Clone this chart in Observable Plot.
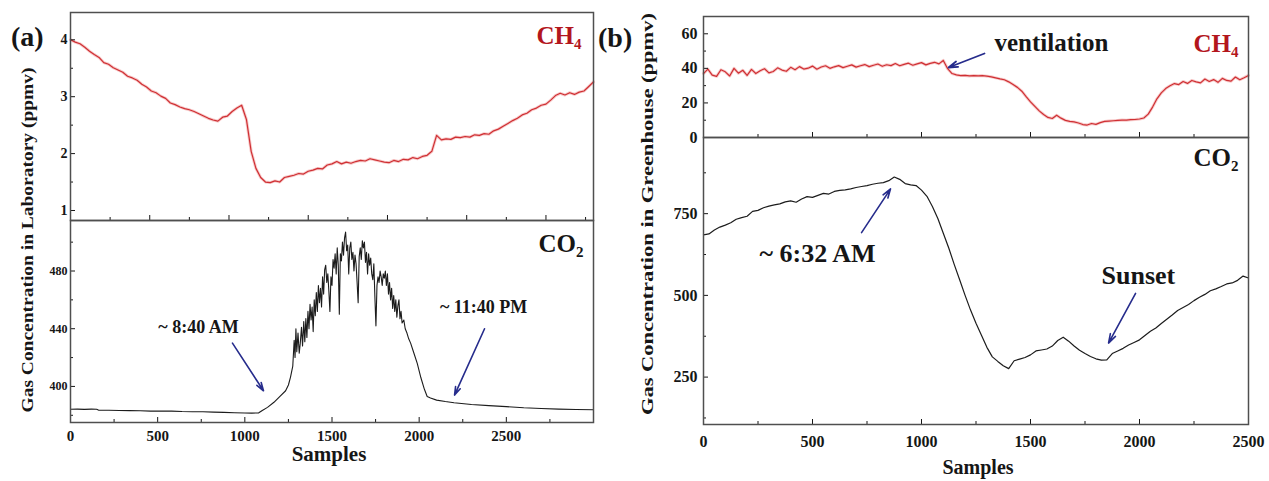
<!DOCTYPE html>
<html><head><meta charset="utf-8">
<script src="https://cdn.jsdelivr.net/npm/d3@7"></script>
<script src="https://cdn.jsdelivr.net/npm/@observablehq/plot@0.6"></script>
<style>
html,body{margin:0;padding:0;background:#fff;}
#root{position:relative;width:1269px;height:481px;overflow:hidden;background:#fff;}
#root svg{position:absolute;overflow:visible;}
</style></head><body><div id="root"></div>
<script>
// ---------------- DATA ----------------
// (a) Laboratory CH4 (ppmv), one reading every 30 samples from 0
const ch4LabStep = 30;
const ch4Lab = [
  4.00,3.96,3.93,3.87,3.80,3.74,3.69,3.60,3.57,3.51,
  3.47,3.43,3.36,3.33,3.29,3.22,3.17,3.10,3.07,3.01,
  2.97,2.89,2.86,2.82,2.79,2.77,2.74,2.70,2.66,2.62,
  2.59,2.57,2.64,2.66,2.74,2.80,2.85,2.60,2.04,1.74,
  1.58,1.50,1.49,1.52,1.50,1.58,1.60,1.62,1.65,1.64,
  1.69,1.71,1.74,1.73,1.80,1.82,1.86,1.82,1.85,1.83,
  1.86,1.88,1.87,1.91,1.89,1.87,1.85,1.84,1.88,1.86,
  1.90,1.89,1.93,1.91,1.95,1.97,2.04,2.32,2.24,2.26,
  2.25,2.29,2.28,2.30,2.29,2.33,2.32,2.35,2.34,2.40,
  2.43,2.48,2.53,2.58,2.62,2.68,2.71,2.77,2.80,2.85,
  2.87,2.94,3.02,3.06,3.03,3.07,3.04,3.08,3.10,3.18,
  3.26
];
// (a) Laboratory CO2 (ppmv)
const co2LabSamples = [
  0,40,80,120,150,160,220,280,340,400,460,520,580,640,700,760,820,880,940,1000,
  1040,1080,1100,1130,1167,1200,1234,1250,1262,1275,
  1283,1288,1293,1298,1305,1312,1318,1325,1331,1338,1344,1350,1356,1362,1368,1374,1380,1386,1392,1398,
  1404,1410,1416,1422,1428,1434,1440,1446,1452,1458,1464,1470,1476,1482,1488,1494,1500,1506,1512,1518,
  1524,1530,1536,1542,1548,1554,1560,1566,1572,1578,1584,1590,1596,1602,1608,1614,1620,1626,1632,1638,
  1644,1650,1656,1662,1668,1674,1680,1686,1692,1698,1704,1710,1716,1722,1728,1734,1740,1746,1752,1758,
  1764,1770,1776,1782,1788,1794,1800,1806,1812,1818,1824,1830,1836,1842,1848,1854,1860,1866,1872,1878,
  1884,1890,1896,1902,1912,1920,1930,1940,1951,1970,1989,2010,2030,2046,2065,2100,2150,2200,2300,2400,
  2500,2600,2700,2800,2900,3000
];
const co2LabValues = [
  384.2,384.3,384.1,384.3,384.2,383.6,383.5,383.3,383.2,383.1,382.9,383.0,382.9,382.6,382.5,382.4,382.2,382.0,381.8,381.6,
  381.5,381.7,383.3,385.5,389,393,397,401,406.5,414,
  432,420,440,424,437,423,430,441,428,445,431,447,434,452,440,457,446,455,438,460,
  449,465,452,470,458,468,455,476,464,481,484,472,478,466,452,476,470,488,482,492,
  478,496,484,450,492,487,500,491,503,507,494,498,478,496,500,488,493,480,491,485,
  472,458,490,496,488,501,496,500,486,493,478,492,484,489,478,474,485,462,442,470,
  476,472,480,476,470,478,475,480,470,478,464,472,460,468,454,463,452,460,448,456,
  460,447,452,444,446,440,437,433,430,423,416,406,398,393,392,390.5,389.5,388.7,387.5,386.7,
  386.0,385.2,384.7,384.3,384.0,383.8
];
// (b) Greenhouse CH4 (ppmv), one reading every 20 samples from 0
const ch4GhStep = 20;
const ch4Gh = [
  37.0,39.6,36.1,35.4,39.2,38.0,35.6,40.0,37.2,38.9,
  35.9,39.4,37.0,38.6,39.8,37.4,38.2,40.3,39.0,38.3,
  40.6,39.2,41.0,39.6,40.1,41.3,39.5,40.8,41.5,40.0,
  40.9,41.6,40.4,41.2,42.0,40.7,41.5,42.2,41.0,41.8,
  42.5,41.2,42.1,41.6,42.8,41.5,42.3,43.0,41.8,42.6,
  43.3,42.0,42.9,43.5,42.6,44.6,39.8,37.0,36.2,35.8,
  35.9,35.6,35.8,35.7,35.8,35.5,35.1,34.5,33.9,33.4,
  32.2,30.6,29.0,26.8,23.6,20.6,18.0,15.4,13.3,11.6,
  11.0,12.9,11.2,9.9,9.3,9.0,8.4,7.5,7.2,8.1,
  7.6,8.6,9.3,9.5,9.7,9.9,10.1,10.0,10.3,10.4,
  10.7,11.3,13.5,17.6,22.4,25.8,28.3,29.9,31.2,30.6,
  32.4,31.3,33.0,32.2,31.6,33.8,32.4,33.5,31.9,34.2,
  33.0,32.6,35.0,33.4,34.6,35.9
];
// (b) Greenhouse CO2 (ppmv), one reading every 25 samples from 0
const co2GhStep = 25;
const co2Gh = [
  685,688,700,709,715,722,733,738,742,757,
  760,768,773,777,780,786,789,785,795,802,
  800,806,812,810,818,821,823,826,830,833,
  836,840,843,845,851,862,855,842,838,836,
  822,803,772,735,690,645,595,548,500,455,
  415,378,341,312,298,285,276,300,305,310,
  318,330,333,336,345,362,372,360,345,332,
  322,313,306,302,303,322,330,338,348,356,
  364,377,390,400,414,427,440,454,463,472,
  484,494,503,514,520,527,535,538,546,559,
  553
];
// Tick values
const xTicksLab = [0,500,1000,1500,2000,2500];
const xMinorLab = [250,750,1250,1750,2250,2750];
const xTicksLabTop = [500,1000,1500,2000,2500,3000];
const xMinorLabTop = [250,750,1250,1750,2250,2750,3250];
const yTicksCh4Lab = [1,2,3,4];
const yMinorCh4Lab = [1.5,2.5,3.5];
const yTicksCo2Lab = [400,440,480];
const yMinorCo2Lab = [380,420,460,500];
const xTicksGh = [0,500,1000,1500,2000,2500];
const xMinorGh = [250,750,1250,1750,2250];
const yTicksCh4Gh = [0,20,40,60];
const yMinorCh4Gh = [10,30,50];
const yTicksCo2Gh = [250,500,750];
const yMinorCo2Gh = [125,375,625,875];
// Annotations (data coordinates)
const labNotes = [{s:734, v:441, label:"~ 8:40 AM"}, {s:2370, v:455, label:"~ 11:40 PM"}];
const labArrows = [{s1:929, v1:430, s2:1107, v2:397}, {s1:2375, v1:440, s2:2203, v2:394}];
const ghCh4Notes = [{s:1596, v:54.4, label:"ventilation"}];
const ghCh4Arrows = [{s1:1289, v1:48.6, s2:1124, v2:40.5}];
const ghCo2Notes = [{s:523, v:628, label:"~ 6:32 AM"}, {s:1995, v:561, label:"Sunset"}];
const ghCo2Arrows = [{s1:725, v1:692, s2:858, v2:826}, {s1:1982, v1:506, s2:1858, v2:354}];

// ---------------- DRAW ----------------
const root = document.getElementById("root");
const FONT = '"Liberation Serif","Times New Roman","DejaVu Serif",serif';
const RED = "#cf2f33", LABRED = "#b3161d", ARROW = "#262c8c", FRAME = "#4f4f4f";
const baseStyle = {fontFamily: FONT, fontWeight: "bold", fontSize: "15px", color: "#161616", background: "transparent", overflow: "visible"};
const noText = () => "";
const plain = d => String(d);

const ch4LabData = ch4Lab.map((v, i) => ({s: i * ch4LabStep, v}));
const co2LabData = co2LabSamples.map((s, i) => ({s, v: co2LabValues[i]}));
const ch4GhData = ch4Gh.map((v, i) => ({s: i * ch4GhStep, v}));
const co2GhData = co2Gh.map((v, i) => ({s: i * co2GhStep, v}));

function place(svg, left, top) {
  svg.style.left = left + "px";
  svg.style.top = top + "px";
  root.appendChild(svg);
}
function redLine(data) {
  return [
    Plot.line(data, {x: "s", y: "v", stroke: "#ee8a8a", strokeWidth: 3, strokeOpacity: 0.45}),
    Plot.line(data, {x: "s", y: "v", stroke: RED, strokeWidth: 1.2})
  ];
}

// (a) CH4
place(Plot.plot({
  width: 600, height: 222, marginLeft: 70, marginRight: 7, marginTop: 12, marginBottom: 2,
  x: {domain: [0, 3300], axis: null}, y: {domain: [0.824, 4.48], axis: null},
  style: baseStyle,
  marks: [
    ...redLine(ch4LabData),
    Plot.axisY(yTicksCh4Lab, {anchor: "left", tickSize: -5, tickPadding: 8, fontSize: 14, tickFormat: plain, label: null}),
    Plot.axisY(yMinorCh4Lab, {anchor: "left", tickSize: -3, tickFormat: noText, label: null}),
    Plot.axisX(xTicksLabTop, {anchor: "bottom", tickSize: -5, tickFormat: noText, label: null}),
    Plot.axisX(xMinorLabTop, {anchor: "bottom", tickSize: -3, tickFormat: noText, label: null}),
    Plot.text(["CH₄"], {text: d => d, frameAnchor: "top-right", dx: -12, dy: 23, lineAnchor: "middle", textAnchor: "end", fill: LABRED, fontSize: 25}),
    Plot.frame({stroke: FRAME, strokeWidth: 1.5})
  ]
}), 0, 0);

// (a) CO2
place(Plot.plot({
  width: 600, height: 245, marginLeft: 70, marginRight: 7, marginTop: 0, marginBottom: 43,
  x: {domain: [0, 3000], axis: null}, y: {domain: [375, 515], axis: null},
  style: baseStyle,
  marks: [
    Plot.line(co2LabData, {x: "s", y: "v", stroke: "#1c1c1c", strokeWidth: 1.1}),
    Plot.axisY(yTicksCo2Lab, {anchor: "left", tickSize: -5, tickPadding: 8, fontSize: 12, tickFormat: plain, label: null}),
    Plot.axisY(yMinorCo2Lab, {anchor: "left", tickSize: -3, tickFormat: noText, label: null}),
    Plot.axisX(xTicksLab, {anchor: "bottom", tickSize: -5, tickPadding: 13, fontSize: 15, tickFormat: plain, label: null}),
    Plot.axisX(xMinorLab, {anchor: "bottom", tickSize: -3, tickFormat: noText, label: null}),
    Plot.text(["CO₂"], {text: d => d, frameAnchor: "top-right", dx: -10, dy: 23, lineAnchor: "middle", textAnchor: "end", fill: "#161616", fontSize: 25}),
    Plot.arrow(labArrows, {x1: "s1", y1: "v1", x2: "s2", y2: "v2", stroke: ARROW, strokeWidth: 1.6, headLength: 8, headAngle: 35}),
    Plot.text(labNotes, {x: "s", y: "v", text: "label", fontSize: 18, fill: "#161616"}),
    Plot.frame({stroke: FRAME, strokeWidth: 1.5})
  ]
}), 0, 220);

// (b) CH4
place(Plot.plot({
  width: 640, height: 139, marginLeft: 83, marginRight: 12, marginTop: 16, marginBottom: 2,
  x: {domain: [0, 2500], axis: null}, y: {domain: [0, 70], axis: null},
  style: baseStyle,
  marks: [
    ...redLine(ch4GhData),
    Plot.axisY(yTicksCh4Gh, {anchor: "left", tickSize: -5, tickPadding: 11, fontSize: 16, tickFormat: plain, label: null}),
    Plot.axisY(yMinorCh4Gh, {anchor: "left", tickSize: -3, tickFormat: noText, label: null}),
    Plot.axisX(xTicksGh, {anchor: "bottom", tickSize: -5, tickFormat: noText, label: null}),
    Plot.axisX(xMinorGh, {anchor: "bottom", tickSize: -3, tickFormat: noText, label: null}),
    Plot.text(["CH₄"], {text: d => d, frameAnchor: "top-right", dx: -10, dy: 27, lineAnchor: "middle", textAnchor: "end", fill: LABRED, fontSize: 25}),
    Plot.arrow(ghCh4Arrows, {x1: "s1", y1: "v1", x2: "s2", y2: "v2", stroke: ARROW, strokeWidth: 1.8, headLength: 8, headAngle: 35}),
    Plot.text(ghCh4Notes, {x: "s", y: "v", text: "label", fontSize: 25, fill: "#161616"}),
    Plot.frame({stroke: FRAME, strokeWidth: 1.5})
  ]
}), 620, 0);

// (b) CO2
place(Plot.plot({
  width: 640, height: 344, marginLeft: 83, marginRight: 12, marginTop: 0, marginBottom: 57,
  x: {domain: [0, 2500], axis: null}, y: {domain: [105, 983], axis: null},
  style: baseStyle,
  marks: [
    Plot.line(co2GhData, {x: "s", y: "v", stroke: "#1c1c1c", strokeWidth: 1.2}),
    Plot.axisY(yTicksCo2Gh, {anchor: "left", tickSize: -5, tickPadding: 11, fontSize: 16, tickFormat: plain, label: null}),
    Plot.axisY(yMinorCo2Gh, {anchor: "left", tickSize: -3, tickFormat: noText, label: null}),
    Plot.axisX(xTicksGh, {anchor: "bottom", tickSize: -5, tickPadding: 16, fontSize: 16, tickFormat: plain, label: null}),
    Plot.axisX(xMinorGh, {anchor: "bottom", tickSize: -3, tickFormat: noText, label: null}),
    Plot.text(["CO₂"], {text: d => d, frameAnchor: "top-right", dx: -10, dy: 20, lineAnchor: "middle", textAnchor: "end", fill: "#161616", fontSize: 25}),
    Plot.arrow(ghCo2Arrows, {x1: "s1", y1: "v1", x2: "s2", y2: "v2", stroke: ARROW, strokeWidth: 1.6, headLength: 9, headAngle: 35}),
    Plot.text(ghCo2Notes, {x: "s", y: "v", text: "label", fontSize: 26, fill: "#161616"}),
    Plot.frame({stroke: FRAME, strokeWidth: 1.5})
  ]
}), 620, 137);

// Panel letters, axis titles
const deco = d3.create("svg").attr("width", 1269).attr("height", 481)
  .style("left", "0px").style("top", "0px").style("pointer-events", "none")
  .attr("font-family", FONT).attr("font-weight", "bold").attr("fill", "#161616");
deco.append("text").attr("x", 11).attr("y", 46).attr("font-size", 28).text("(a)");
deco.append("text").attr("x", 598).attr("y", 47).attr("font-size", 28).text("(b)");
deco.append("text").attr("transform", "translate(27,240) rotate(-90)")
  .attr("text-anchor", "middle").attr("dominant-baseline", "central").attr("font-size", 17)
  .attr("textLength", 345).attr("lengthAdjust", "spacingAndGlyphs")
  .text("Gas Concentration in Laboratory (ppmv)");
deco.append("text").attr("transform", "translate(647,214) rotate(-90)")
  .attr("text-anchor", "middle").attr("dominant-baseline", "central").attr("font-size", 17)
  .attr("textLength", 402).attr("lengthAdjust", "spacingAndGlyphs")
  .text("Gas Concentration in Greenhouse (ppmv)");
deco.append("text").attr("x", 329).attr("y", 461).attr("text-anchor", "middle").attr("font-size", 21).text("Samples");
deco.append("text").attr("x", 978).attr("y", 474).attr("text-anchor", "middle").attr("font-size", 20).text("Samples");
root.appendChild(deco.node());
</script>
</body></html>
